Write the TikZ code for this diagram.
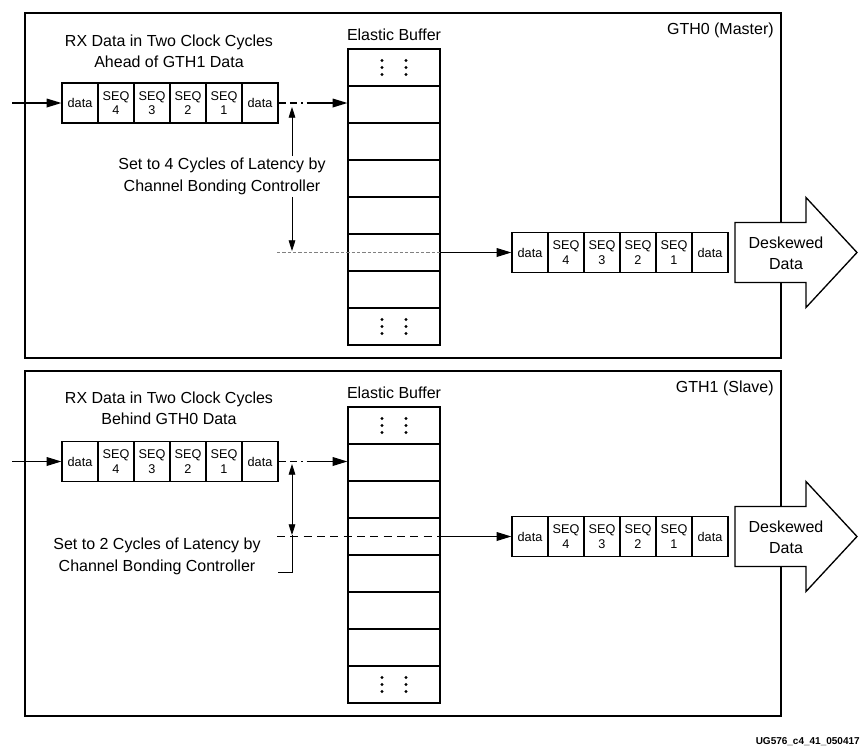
\documentclass[tikz,border=0pt]{standalone}
\usepackage{fontspec}
\setmainfont{Liberation Sans}
\usetikzlibrary{arrows.meta}

\begin{document}
\begin{tikzpicture}[x=0.75pt,y=-0.75pt]
\tikzstyle{every node}+=[inner sep=0pt]
\tikzstyle{cell}=[draw, line width=0.9pt, minimum width=27pt, minimum height=30pt, align=center, font=\fontsize{9.5}{11}\selectfont]
\tikzstyle{row}=[draw, line width=0.9pt, minimum width=69pt, minimum height=27.75pt]
\tikzstyle{lbl}=[align=center, font=\fontsize{12}{16}\selectfont, inner sep=1.5pt]
\tikzstyle{arr}=[line width=0.9pt, -{Triangle[length=11pt,width=6.5pt]}]
\tikzstyle{vtip}=[line width=0.6pt, -{Triangle[length=8pt,width=5pt]}]
\tikzstyle{dim}=[line width=0.6pt, {Triangle[length=8pt,width=5pt]}-{Triangle[length=8pt,width=5pt]}]
\tikzstyle{panel}=[line width=1pt]
\tikzstyle{bigarrow}=[line width=1pt, fill=white]
\useasboundingbox (0,0) rectangle (865,754);

% GTH0 (Master)
\draw [panel] (25,13) rectangle (781,358);
\node [lbl, anchor=east] (tha) at (776,30) {GTH0 (Master)};
\node [lbl] (hda) at (169,51) {RX Data in Two Clock Cycles\\Ahead of GTH1 Data};
\node [lbl] (eba) at (394,35) {Elastic Buffer};
\foreach \k in {1,...,8}
  \node [row] (bufa\k) at (394,30.5+37*\k) {};
\foreach \x in {382,406}
  \foreach \y in {60.5,67.5,74.5,319.5,326.5,333.5}
    \fill (\x,\y) circle (1.3pt);
\foreach \lab [count=\i from 0] in {data,SEQ\\4,SEQ\\3,SEQ\\2,SEQ\\1,data}
  \node [cell] (ina\i) at (80+36*\i,103) {\lab};
\coordinate (sra) at (12,103);
\coordinate (dda) at (309,103);
\draw [arr] (sra) -- (ina0);
\draw [line width=0.9pt, dash pattern=on 5.5pt off 3pt on 5.5pt off 3pt on 1pt off 3pt] (ina5) -- (dda);
\draw [arr] (dda) -- (dda -| bufa2.west);
\node [lbl] (lata) at (222,176.5) {Set to 4 Cycles of Latency by\\Channel Bonding Controller};
\coordinate (ta) at (292,107);
\coordinate (ba) at (292,251);
\draw [vtip] (ta |- lata.north) -- (ta);
\draw [vtip] (ba |- lata.south) -- (ba);
\coordinate (dsa) at (277,252.5);
\draw [gray, line width=0.6pt, dash pattern=on 2.5pt off 1.5pt] (dsa) -- (bufa6.east);
\foreach \lab [count=\i from 0] in {data,SEQ\\4,SEQ\\3,SEQ\\2,SEQ\\1,data}
  \node [cell] (outa\i) at (530+36*\i,252.5) {\lab};
\draw [arr] (bufa6.east) -- (outa0);
\draw [bigarrow] (735,222.5) -- (806,222.5) -- (806,197.5) -- (857,252.5) -- (806,307.5) -- (806,282.5) -- (735,282.5) -- cycle;
\node [lbl] (dska) at (786,253.5) {Deskewed\\Data};

% GTH1 (Slave)
\draw [panel] (25,371) rectangle (781,716);
\node [lbl, anchor=east] (thb) at (776,388) {GTH1 (Slave)};
\node [lbl] (hdb) at (169,408.5) {RX Data in Two Clock Cycles\\Behind GTH0 Data};
\node [lbl] (ebb) at (394,393) {Elastic Buffer};
\foreach \k in {1,...,8}
  \node [row] (bufb\k) at (394,388.5+37*\k) {};
\foreach \x in {382,406}
  \foreach \y in {418.5,425.5,432.5,677.5,684.5,691.5}
    \fill (\x,\y) circle (1.3pt);
\foreach \lab [count=\i from 0] in {data,SEQ\\4,SEQ\\3,SEQ\\2,SEQ\\1,data}
  \node [cell] (inb\i) at (80+36*\i,461.5) {\lab};
\coordinate (srb) at (12,461.5);
\coordinate (ddb) at (309,461.5);
\draw [arr] (srb) -- (inb0);
\draw [line width=0.9pt, dash pattern=on 5.5pt off 3pt on 5.5pt off 3pt on 1pt off 3pt] (inb5) -- (ddb);
\draw [arr] (ddb) -- (ddb -| bufb2.west);
\coordinate (tb) at (292,464);
\coordinate (bb) at (292,535);
\coordinate (kb) at (278,572);
\draw [dim] (tb) -- (bb);
\draw [line width=0.6pt] (bb) |- (kb);
\node [lbl] (latb) at (157,556.5) {Set to 2 Cycles of Latency by\\Channel Bonding Controller};
\coordinate (dsb) at (277,536.5);
\draw [line width=0.9pt, dash pattern=on 6pt off 4pt] (dsb) -- (bufb4.east);
\foreach \lab [count=\i from 0] in {data,SEQ\\4,SEQ\\3,SEQ\\2,SEQ\\1,data}
  \node [cell] (outb\i) at (530+36*\i,536.5) {\lab};
\draw [arr] (bufb4.east) -- (outb0);
\draw [bigarrow] (735,506.5) -- (806,506.5) -- (806,481.5) -- (857,536.5) -- (806,591.5) -- (806,566.5) -- (735,566.5) -- cycle;
\node [lbl] (dskb) at (786,537.5) {Deskewed\\Data};

\node [anchor=east, font=\bfseries\fontsize{7.5}{9}\selectfont] (fig) at (860,742) {UG576\_c4\_41\_050417};
\end{tikzpicture}
\end{document}
